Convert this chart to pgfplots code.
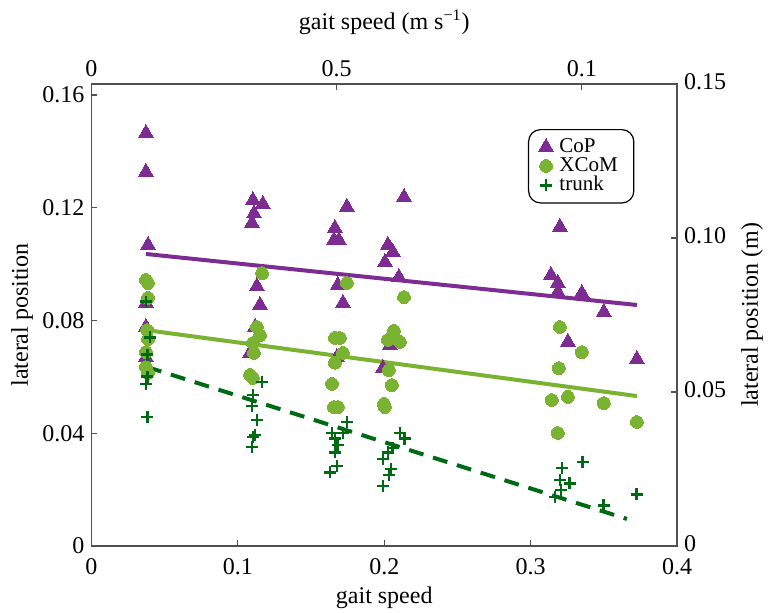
\documentclass[border=0pt]{standalone}
\usepackage{fontspec}
\setmainfont{Liberation Serif}
\usepackage{pgfplots}
\usepackage{pgfplotstable}
\pgfplotsset{compat=1.18}
\definecolor{cop}{RGB}{125,45,145}
\definecolor{xcom}{RGB}{122,178,50}
\definecolor{trunk}{RGB}{0,105,20}
\definecolor{axc}{RGB}{80,80,80}

\pgfplotstableread{
x y
0.0372 0.1465
0.0372 0.1327
0.0386 0.1068
0.0372 0.0862
0.0372 0.0777
0.0372 0.0670
0.1103 0.1227
0.1171 0.1213
0.1110 0.1180
0.1096 0.1146
0.1130 0.0922
0.1151 0.0855
0.1117 0.0777
0.1083 0.0685
0.1663 0.1128
0.1656 0.1085
0.1690 0.1085
0.1745 0.1203
0.1683 0.0926
0.1718 0.0862
0.1677 0.0670
0.2135 0.1238
0.2025 0.1068
0.2059 0.1043
0.2005 0.1007
0.2100 0.0954
0.2039 0.0713
0.1991 0.0631
0.3200 0.1132
0.3139 0.0961
0.3186 0.0933
0.3186 0.0901
0.3350 0.0897
0.3500 0.0830
0.3255 0.0724
0.3726 0.0663
}\copdata

\pgfplotstableread{
x y
0.0372 0.0944
0.0386 0.0933
0.0386 0.0880
0.0380 0.0766
0.0386 0.0734
0.0372 0.0688
0.0372 0.0635
0.0386 0.0614
0.1165 0.0968
0.1130 0.0777
0.1151 0.0748
0.1103 0.0720
0.1110 0.0685
0.1083 0.0607
0.1103 0.0596
0.1663 0.0738
0.1697 0.0738
0.1718 0.0685
0.1663 0.0650
0.1643 0.0575
0.1656 0.0493
0.1683 0.0493
0.1745 0.0933
0.2135 0.0883
0.2066 0.0763
0.2025 0.0731
0.2107 0.0724
0.2032 0.0624
0.2052 0.0571
0.1998 0.0504
0.2005 0.0493
0.3200 0.0777
0.3350 0.0688
0.3193 0.0631
0.3145 0.0518
0.3255 0.0529
0.3500 0.0507
0.3186 0.0401
0.3726 0.0440
}\xcomdata

\pgfplotstableread{
x y
0.0372 0.0866
0.0400 0.0741
0.0380 0.0678
0.0380 0.0600
0.0372 0.0575
0.0380 0.0458
0.1165 0.0582
0.1103 0.0536
0.1096 0.0497
0.1130 0.0447
0.1117 0.0394
0.1103 0.0387
0.1096 0.0351
0.1745 0.0440
0.1643 0.0401
0.1718 0.0401
0.1663 0.0380
0.1683 0.0358
0.1663 0.0333
0.1677 0.0284
0.1629 0.0262
0.2107 0.0401
0.2141 0.0380
0.2059 0.0348
0.2025 0.0333
0.1991 0.0309
0.2046 0.0273
0.2032 0.0252
0.1991 0.0213
0.3166 0.0174
0.3200 0.0234
0.3214 0.0277
0.3207 0.0199
0.3268 0.0223
0.3357 0.0298
0.3500 0.0145
0.3726 0.0184
}\trunkdata

\begin{document}
\begin{tikzpicture}
\begin{axis}[name=ax,
  width=292.75pt, height=231pt, scale only axis,
  xmin=0, xmax=0.4, ymin=0, ymax=0.1639,
  axis line style={axc, line width=0.8pt},
  xtick={0,0.1,0.2,0.3,0.4}, xticklabels={0,0.1,0.2,0.3,0.4},
  ytick={0,0.04,0.08,0.12,0.16}, yticklabels={0,0.04,0.08,0.12,0.16},
  xtick pos=bottom, ytick pos=left, tick align=inside,
  major tick length=3pt, tick style={axc, line width=0.6pt},
  ticklabel style={font=\fontsize{12}{14}\selectfont},
  xticklabel style={yshift=-2.5pt},
  xlabel={gait speed}, ylabel={lateral position},
  xlabel style={font=\fontsize{12}{14}\selectfont, at={(rel axis cs:0.5,0)}, anchor=center, yshift=-26pt},
  ylabel style={font=\fontsize{12}{14}\selectfont, at={(rel axis cs:0,0.5)}, anchor=center, yshift=34.75pt},
  legend style={at={(rel axis cs:0.7455,0.9026)}, anchor=north west,
    draw=black, line width=0.6pt, rounded corners=6pt,
    font=\fontsize{10.5}{11}\selectfont, row sep=-3pt,
    inner xsep=5pt, inner ysep=2.5pt,
    nodes={inner xsep=3pt}},
  legend cell align=left,
  legend image post style={sharp corners},
]
\addplot[only marks, mark=triangle*, mark size=4.3pt, color=cop, mark options={sharp corners, draw=cop, fill=cop, line width=0pt}] table[x=x,y=y]{\copdata};
\addlegendentry{CoP}
\addplot[only marks, mark=*, mark size=3.2pt, color=xcom, mark options={draw=xcom, fill=xcom, line width=0pt}] table[x=x,y=y]{\xcomdata};
\addlegendentry{XCoM}
\addplot[only marks, mark=+, mark size=3pt, color=trunk, mark options={line width=1.4pt, sharp corners}] table[x=x,y=y]{\trunkdata};
\addlegendentry{trunk}
\addplot[cop, line width=2pt, forget plot, sharp corners] coordinates {(0.0372,0.1036) (0.3726,0.0855)};
\addplot[xcom, line width=2pt, forget plot, sharp corners] coordinates {(0.0372,0.0766) (0.3726,0.0532)};
\addplot[trunk, line width=2pt, dash pattern=on 7.5pt off 5pt, forget plot, sharp corners] coordinates {(0.0379,0.0635) (0.3658,0.0096)};
\end{axis}
\begin{axis}[
  width=292.75pt, height=231pt, scale only axis,
  xmin=0, xmax=0.4, ymin=0, ymax=0.15,
  axis x line*=top, axis y line*=right,
  axis line style={axc, line width=0.8pt, -},
  xtick={0,0.1675,0.335}, xticklabels={0,0.5,0.1},
  ytick={0,0.05,0.10,0.15}, yticklabels={0,0.05,0.10,0.15},
  tick align=inside, major tick length=3pt, tick style={axc, line width=0.6pt},
  ticklabel style={font=\fontsize{12}{14}\selectfont},
  yticklabel style={yshift=1pt},
  xlabel={gait speed (m s\textsuperscript{−1})}, ylabel={lateral position (m)},
  xlabel style={font=\fontsize{12}{14}\selectfont, at={(rel axis cs:0.5,1)}, anchor=center, yshift=31pt},
  ylabel style={font=\fontsize{12}{14}\selectfont, at={(rel axis cs:1,0.5)}, anchor=center, yshift=-37.5pt},
]
\end{axis}
\pgfresetboundingbox
\path ([xshift=-45.75pt,yshift=-33pt]ax.south west) rectangle ([xshift=47pt,yshift=42pt]ax.north east);
\end{tikzpicture}
\end{document}
